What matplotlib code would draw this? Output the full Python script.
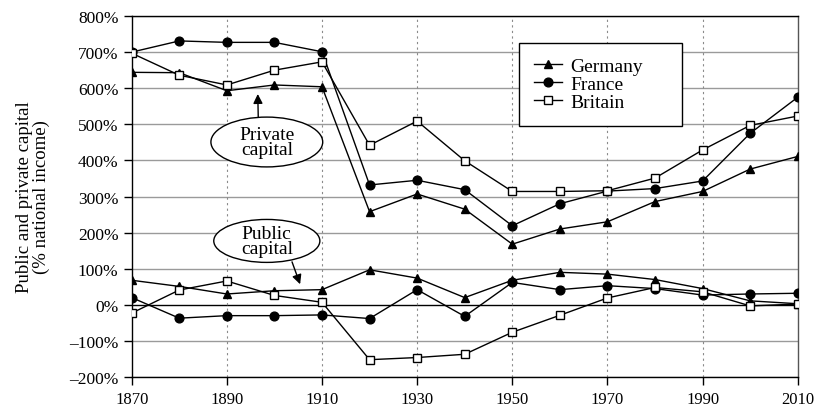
#!/usr/bin/env python3
import matplotlib
matplotlib.use("Agg")
import matplotlib.pyplot as plt
from matplotlib.patches import Ellipse
from matplotlib.ticker import FuncFormatter

years = [1870, 1880, 1890, 1900, 1910, 1920, 1930, 1940, 1950, 1960, 1970, 1980, 1990, 2000, 2010]

germany_private = [644, 643, 593, 609, 604, 258, 307, 265, 168, 210, 230, 286, 314, 376, 411]
france_private = [700, 731, 727, 727, 701, 332, 345, 319, 219, 280, 315, 322, 343, 475, 575]
britain_private = [697, 636, 609, 650, 673, 442, 509, 399, 314, 314, 316, 351, 429, 497, 523]

germany_public = [68, 51, 30, 39, 42, 97, 74, 20, 68, 90, 85, 70, 45, 11, 3]
france_public = [20, -37, -30, -30, -28, -38, 42, -32, 62, 42, 53, 45, 27, 30, 32]
britain_public = [-23, 41, 66, 26, 7, -152, -146, -137, -76, -29, 19, 48, 36, -3, 2]

y_ticks = list(range(-200, 801, 100))
x_ticks = list(range(1870, 2011, 20))

plt.rcParams["font.family"] = ["Liberation Serif", "DejaVu Serif"]

fig = plt.figure(figsize=(8.15, 4.1), dpi=100)
ax = fig.add_axes([0.1616, 0.078, 0.8172, 0.8805])

# grid
for v in y_ticks:
    if v == 0:
        ax.axhline(v, color="black", lw=1.0, zorder=1)
    else:
        ax.axhline(v, color="#9a9a9a", lw=1.0, zorder=1)
for yr in x_ticks[1:-1]:
    ax.axvline(yr, color="#8a8a8a", lw=0.8, ls=(0, (2, 3)), zorder=1)

style = dict(color="black", lw=1.0, markersize=6.3, zorder=3)
ax.plot(years, germany_private, marker="^", mfc="black", label="Germany", **style)
ax.plot(years, france_private, marker="o", mfc="black", label="France", **style)
ax.plot(years, britain_private, marker="s", mfc="white", label="Britain", **style)
ax.plot(years, germany_public, marker="^", mfc="black", **style)
ax.plot(years, france_public, marker="o", mfc="black", **style)
ax.plot(years, britain_public, marker="s", mfc="white", **style)

ax.set_xlim(1870, 2010)
ax.set_ylim(-200, 800)
ax.set_xticks(x_ticks)
ax.set_yticks(y_ticks)
ax.yaxis.set_major_formatter(FuncFormatter(lambda v, p: f"{int(v)}%".replace("-", "\u2013")))
ax.tick_params(axis="both", direction="out", length=6, width=1, labelsize=12.5, colors="black")
ax.tick_params(axis="x", pad=4, labelsize=12)
for side in ["left", "right", "top", "bottom"]:
    ax.spines[side].set_color("black")
    ax.spines[side].set_linewidth(1.0)
ax.spines["right"].set_color("#555555")

ax.set_ylabel("Public and private capital\n(% national income)", fontsize=13.5, linespacing=0.95, labelpad=14)

leg = ax.legend(loc="upper left", bbox_to_anchor=(0.5815, 0.705, 0.2447, 0.22), mode="expand",
                fontsize=14, frameon=True, fancybox=False, edgecolor="black", framealpha=1,
                handlelength=1.45, labelspacing=0.02, borderpad=0.75, handletextpad=0.45,
                borderaxespad=0)
leg.get_frame().set_linewidth(1.0)

# ellipse callouts
arrow = dict(arrowstyle="-|>", color="black", lw=1.0, shrinkA=0, shrinkB=0, mutation_scale=14)
ax.add_patch(Ellipse((1898.4, 451), 23.5, 138, fc="white", ec="black", lw=1.0, zorder=5))
ax.text(1898.4, 451, "Private\ncapital", ha="center", va="center", fontsize=14,
        linespacing=0.9, zorder=6)
ax.annotate("", xy=(1896.5, 584), xytext=(1896.6, 520), arrowprops=arrow, zorder=5)

ax.add_patch(Ellipse((1898.4, 177), 22.3, 119, fc="white", ec="black", lw=1.0, zorder=5))
ax.text(1898.4, 177, "Public\ncapital", ha="center", va="center", fontsize=14,
        linespacing=0.9, zorder=6)
ax.annotate("", xy=(1905.4, 57), xytext=(1903.7, 119), arrowprops=arrow, zorder=5)

fig.savefig("out.png", dpi=100)
